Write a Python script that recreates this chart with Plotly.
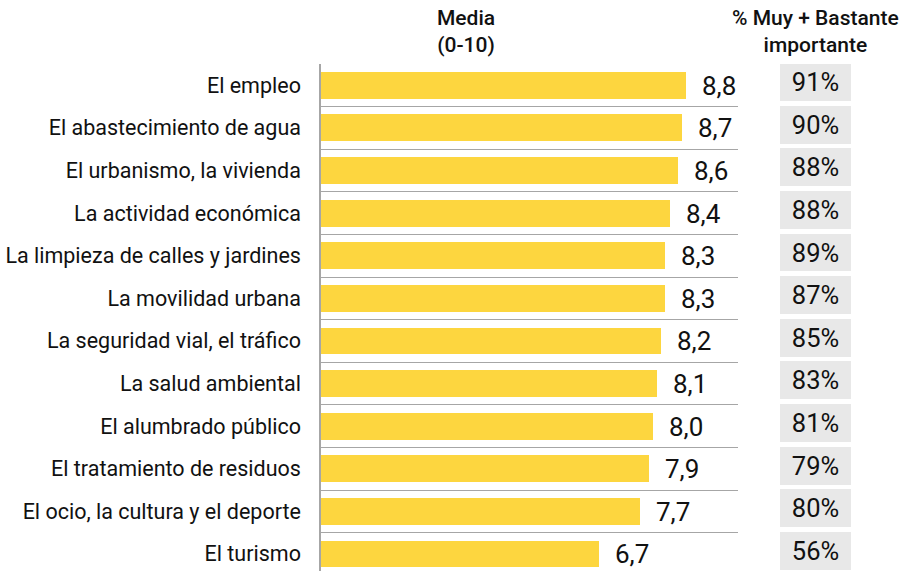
import plotly.graph_objects as go

# ── Data ──────────────────────────────────────────────────────────────────────
categorias = [
    "El empleo",
    "El abastecimiento de agua",
    "El urbanismo, la vivienda",
    "La actividad económica",
    "La limpieza de calles y jardines",
    "La movilidad urbana",
    "La seguridad vial, el tráfico",
    "La salud ambiental",
    "El alumbrado público",
    "El tratamiento de residuos",
    "El ocio, la cultura y el deporte",
    "El turismo",
]
media = [8.8, 8.7, 8.6, 8.4, 8.3, 8.3, 8.2, 8.1, 8.0, 7.9, 7.7, 6.7]
pct_importante = [91, 90, 88, 88, 89, 87, 85, 83, 81, 79, 80, 56]

# ── Style ─────────────────────────────────────────────────────────────────────
_C = {
    "bar": "#FDD63F",
    "box": "#E8E8E8",
    "grid": "#A6A6A6",
    "text": "#111111",
}
_FONT = "Roboto, Arial, sans-serif"

W, H = 904, 571
L, R, T, B = 321, 53, 64, 0
plot_w = W - L - R
plot_h = H - T - B
x_dom = [0, (738 - L) / plot_w]
x2_dom = [(780 - L) / plot_w, (851 - L) / plot_w]
y_range = [11.4, -0.5]


def _px_x(px):
    return (px - L) / plot_w


def _px_y(px_from_top):
    return (H - px_from_top - B) / plot_h


fig = go.Figure()

fig.add_trace(go.Bar(
    x=media,
    y=categorias,
    orientation="h",
    width=0.63,
    marker=dict(color=_C["bar"], line=dict(width=0)),
    text=["  " + f"{v:.1f}".replace(".", ",") for v in media],
    textposition="outside",
    constraintext="none",
    textfont=dict(family=_FONT, size=26, color=_C["text"]),
    cliponaxis=False,
    hoverinfo="skip",
    xaxis="x", yaxis="y",
))

fig.add_trace(go.Bar(
    x=[1] * len(pct_importante),
    y=categorias,
    orientation="h",
    width=0.89,
    offset=-0.52,
    marker=dict(color=_C["box"], line=dict(width=0)),
    text=[f"{p}%" for p in pct_importante],
    textposition="inside",
    insidetextanchor="middle",
    constraintext="none",
    textfont=dict(family=_FONT, size=25.5, color=_C["text"]),
    hoverinfo="skip",
    xaxis="x2", yaxis="y2",
))

_header_font = dict(family=_FONT, size=21, weight=500, color=_C["text"])

fig.update_layout(
    width=W, height=H,
    margin=dict(l=L, r=R, t=T, b=B),
    paper_bgcolor="white",
    plot_bgcolor="white",
    showlegend=False,
    bargap=0,
    font=dict(family=_FONT, color=_C["text"]),
    xaxis=dict(
        domain=x_dom, range=[0, 10.05],
        showgrid=False, zeroline=False, showticklabels=False, showline=False,
        automargin=False,
    ),
    yaxis=dict(
        type="category",
        categoryorder="array", categoryarray=categorias,
        range=y_range,
        showgrid=True, gridcolor=_C["grid"], gridwidth=1.2,
        tickson="boundaries", ticks="",
        showline=True, linecolor=_C["grid"], linewidth=1.5,
        ticklabelstandoff=14,
        automargin=False,
        tickfont=dict(family=_FONT, size=21.5, color=_C["text"]),
    ),
    xaxis2=dict(
        domain=x2_dom, range=[0, 1], anchor="y2",
        showgrid=False, zeroline=False, showticklabels=False, showline=False,
        automargin=False,
    ),
    yaxis2=dict(
        type="category",
        categoryorder="array", categoryarray=categorias,
        range=y_range, anchor="x2",
        showgrid=False, showticklabels=False, showline=False, ticks="",
        automargin=False,
    ),
    annotations=[
        dict(
            text="Media<br>(0-10)", x=_px_x(466), y=_px_y(4),
            xref="paper", yref="paper", xanchor="center", yanchor="top",
            showarrow=False, font=_header_font,
        ),
        dict(
            text="% Muy + Bastante<br>importante", x=_px_x(815), y=_px_y(4),
            xref="paper", yref="paper", xanchor="center", yanchor="top",
            showarrow=False, font=_header_font,
        ),
    ],
)

# page body has a default 8px margin; drop it so the figure fills the window
fig.write_html(
    "out.html",
    config={"displayModeBar": False},
    post_script="document.body.style.margin='0';",
)
